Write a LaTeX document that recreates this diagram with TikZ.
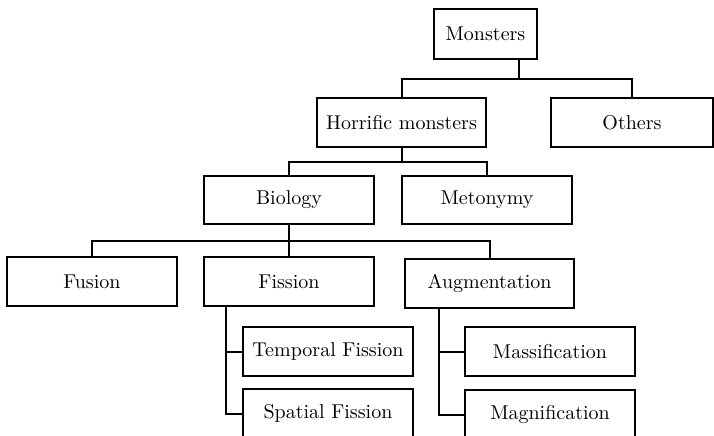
\documentclass[tikz,border=0pt]{standalone}
\usepackage{tikz}

\tikzset{box/.style={draw,minimum width=85pt,minimum height=24.5pt,inner sep=2pt}}

\begin{document}
\begin{tikzpicture}[x=.5pt,y=.5pt,line width=1pt,font=\normalsize]
  \useasboundingbox (0,0) rectangle (714,435);
  \node[box,minimum width=51.5pt,minimum height=25pt] (monsters) at (485.5,401) {Monsters};
  \node[box,minimum width=84.5pt] (horrific) at (401.5,312.5) {Horrific monsters};
  \node[box,minimum width=81pt] (others) at (632,312.5) {Others};
  \node[box,minimum height=24pt] (biology) at (289,235) {Biology};
  \node[box,minimum height=24pt] (metonymy) at (487,235) {Metonymy};
  \node[box] (fusion) at (92,153.5) {Fusion};
  \node[box] (fission) at (289,153.5) {Fission};
  \node[box,minimum width=84.5pt] (augmentation) at (489.5,151.5) {Augmentation};
  \node[box] (temporal) at (328,83.5) {Temporal Fission};
  \node[box] (spatial) at (328,21.5) {Spatial Fission};
  \node[box] (massification) at (550,83.5) {Massification};
  \node[box] (magnification) at (550,20.5) {Magnification};
  \coordinate (bar1) at (519,356);
  \coordinate (bar2) at (401.5,273);
  \coordinate (bar3) at (289,194);
  \draw (monsters.south -| bar1) -- (bar1);
  \draw (horrific.north) |- (bar1) -| (others.north);
  \draw (horrific.south) -- (bar2);
  \draw (biology.north) |- (bar2) -| (metonymy.north);
  \draw (biology.south) -- (bar3) -- (fission.north);
  \draw (fusion.north) |- (bar3) -| (augmentation.north);
  \draw ([xshift=11.5pt]fission.south west) |- (temporal.west);
  \draw ([xshift=11.5pt]fission.south west) |- (spatial.west);
  \draw ([xshift=17.5pt]augmentation.south west) |- (massification.west);
  \draw ([xshift=17.5pt]augmentation.south west) |- (magnification.west);
\end{tikzpicture}
\end{document}
